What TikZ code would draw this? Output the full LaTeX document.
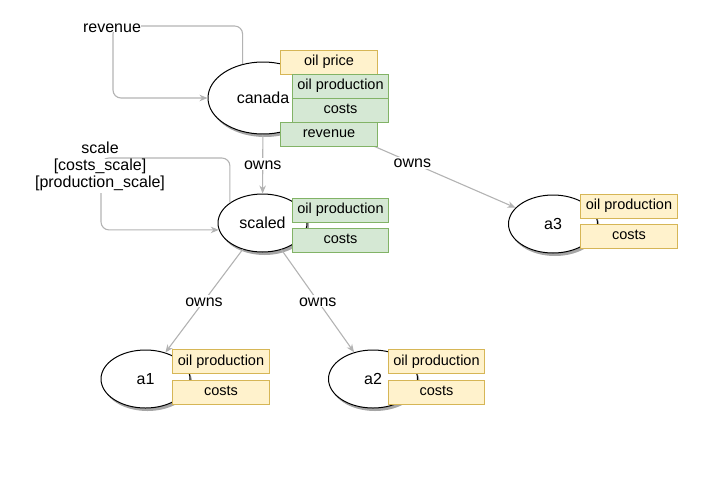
\documentclass[tikz,border=0pt]{standalone}
\usepackage{fontspec}
\setmainfont{Liberation Sans}
\usetikzlibrary{shapes.geometric,arrows.meta,shadows}
\definecolor{ylwfill}{HTML}{FFF2CC}
\definecolor{ylwline}{HTML}{D6B656}
\definecolor{grnfill}{HTML}{D5E8D4}
\definecolor{grnline}{HTML}{82B366}
\definecolor{edgegray}{HTML}{B3B3B3}
\setlength{\fboxsep}{0pt}
\begin{document}
\begin{tikzpicture}[x=1pt,y=-1pt,
  ent/.style={ellipse, draw=black, line width=1pt, fill=white,
    minimum width=89pt, minimum height=58pt, inner sep=0pt,
    font=\fontsize{16}{17}\selectfont, text height=10pt, text depth=0pt,
    drop shadow={shadow xshift=2pt, shadow yshift=-3pt, fill=black!50, opacity=0.7}},
  attr/.style={rectangle, line width=1pt, minimum width=96.5pt, minimum height=24pt,
    inner sep=0pt, font=\fontsize{14.5}{17}\selectfont, text height=9pt, text depth=2pt},
  ybox/.style={attr, fill=ylwfill, draw=ylwline},
  gbox/.style={attr, fill=grnfill, draw=grnline},
  link/.style={draw=edgegray, line width=1.1pt, -{Stealth[length=8pt,width=6.5pt,inset=2.5pt]}},
  lbl/.style={fill=white, inner sep=1pt, font=\fontsize{16}{17}\selectfont, text height=10pt, text depth=0pt},
  looplbl/.style={inner sep=0pt, font=\fontsize{16}{17}\selectfont, align=center}
]
\useasboundingbox (0,0) rectangle (703,493);

% entities
\node[ent, minimum width=110pt, minimum height=72pt] (canada) at (263,98) {canada};
\node[ent] (scaled) at (262.5,223) {scaled};
\node[ent] (a1) at (145.5,379) {a1};
\node[ent] (a2) at (373,379) {a2};
\node[ent] (a3) at (553,224) {a3};

% connectors
\draw[link] (canada) -- node[lbl] {owns} (scaled);
\draw[link] (canada) -- node[lbl] {owns} (a3);
\draw[link] (scaled) -- node[lbl] {owns} (a1);
\draw[link] (scaled) -- node[lbl] {owns} (a2);

% loops
\coordinate (revcorner) at (113,26);
\coordinate (scalecorner) at (101,158);
\draw[link, rounded corners=8pt] (canada.121) |- (revcorner) |- (canada.west);
\node[looplbl, fill=white, anchor=base] (revlbl) at (112,32) {revenue};
\draw[link, rounded corners=8pt] (scaled.148) |- (scalecorner) |- (scaled.189);
\node[looplbl] (scalelbl) at (100,167.5) {scale\\\colorbox{white}{\strut[costs\_scale]}\\\colorbox{white}{\strut[production\_scale]}};

% attribute boxes
\node[ybox] (cprice) at (329,62) {oil price};
\node[gbox] (cprod) at (340.5,86) {oil production};
\node[gbox] (ccost) at (340.5,110) {costs};
\node[gbox] (crev) at (329,134) {revenue};

\node[gbox] (sprod) at (340.5,210) {oil production};
\node[gbox] (scost) at (340.5,240) {costs};

\node[ybox] (a1prod) at (221,361.5) {oil production};
\node[ybox] (a1cost) at (221,392) {costs};

\node[ybox] (a2prod) at (436.5,361.5) {oil production};
\node[ybox] (a2cost) at (436.5,392) {costs};

\node[ybox] (a3prod) at (629,206) {oil production};
\node[ybox] (a3cost) at (629,236) {costs};
\end{tikzpicture}
\end{document}
